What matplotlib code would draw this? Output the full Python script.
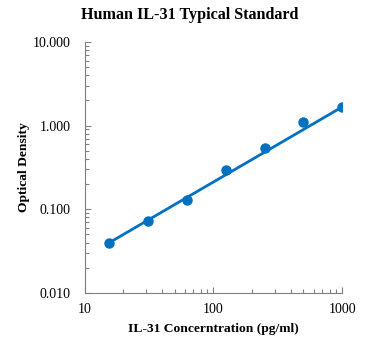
import numpy as np
import matplotlib
matplotlib.use("Agg")
import matplotlib.pyplot as plt
from matplotlib.ticker import LogLocator, FuncFormatter, NullFormatter

conc = [15.6, 31.25, 62.5, 125, 250, 500, 1000]
od = [0.040, 0.073, 0.130, 0.297, 0.543, 1.107, 1.670]

title = "Human IL-31 Typical Standard"
xlabel = "IL-31 Concerntration (pg/ml)"
ylabel = "Optical Density"

blue = "#0070C0"
plt.rcParams['font.family'] = ['Liberation Serif', 'DejaVu Serif']

fig = plt.figure(figsize=(3.71, 3.5), dpi=100)
ax = fig.add_axes([0.228, 0.163, 0.694, 0.717])

x = np.array(conc); y = np.array(od)
# standard curve (power law) through the end points of the standard series
k = np.log10(y[-1] / y[0]) / np.log10(x[-1] / x[0])
xf = np.geomspace(x[0], x[-1], 50)
ax.plot(xf, y[0] * (xf / x[0]) ** k, color=blue, lw=2.0, zorder=2)
ax.plot(x, y, 'o', color=blue, ms=6.5, zorder=3)

ax.set_xscale('log'); ax.set_yscale('log')
ax.set_xlim(10, 1000); ax.set_ylim(0.01, 10)
ax.yaxis.set_major_formatter(FuncFormatter(lambda v, p: f"{v:.3f}"))
ax.xaxis.set_major_formatter(FuncFormatter(lambda v, p: f"{v:g}"))
ax.xaxis.set_minor_formatter(NullFormatter()); ax.yaxis.set_minor_formatter(NullFormatter())
ax.xaxis.set_minor_locator(LogLocator(base=10, subs=np.arange(2, 10)))
ax.yaxis.set_minor_locator(LogLocator(base=10, subs=np.arange(2, 10)))

for s in ['top', 'right']:
    ax.spines[s].set_visible(False)
for s in ['left', 'bottom']:
    ax.spines[s].set_color('#808080')
    ax.spines[s].set_linewidth(0.8)
ax.tick_params(which='both', direction='in', color='#808080', width=0.8, labelsize=10)
ax.tick_params(axis='y', pad=10)
ax.tick_params(axis='x', pad=7)
ax.tick_params(which='major', length=4)
ax.tick_params(which='minor', length=3)

ax.set_xlabel(xlabel, fontsize=9.7, fontweight='bold', labelpad=5)
ax.set_ylabel(ylabel, fontsize=9.7, fontweight='bold', labelpad=2)
fig.text(190 / 371, 1 - 15 / 350, title, ha='center', va='center', fontsize=11.6, fontweight='bold')

fig.savefig("out.png", dpi=100)
